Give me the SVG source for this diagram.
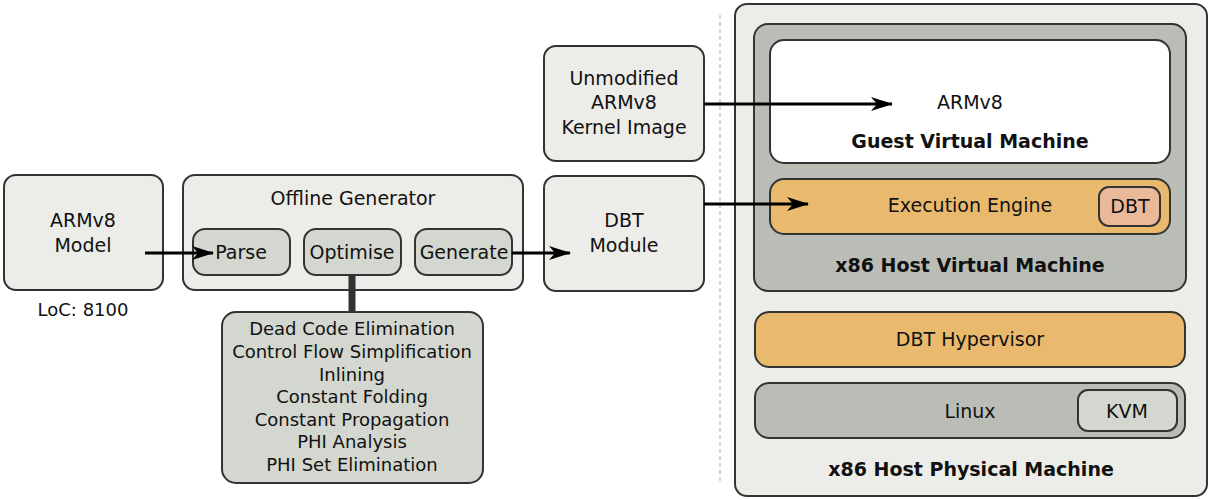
<svg xmlns="http://www.w3.org/2000/svg" width="1210" height="500" viewBox="0 0 1210 500">
<defs>
<marker id="ah" viewBox="0 0 22 14" refX="21" refY="7" markerWidth="22" markerHeight="14" markerUnits="userSpaceOnUse" orient="auto">
<path d="M0,0 L22,7 L0,14 L6,7 Z" fill="#000"/>
</marker>
<style>
text{font-family:"DejaVu Sans","Liberation Sans",sans-serif;font-size:19px;fill:#111;text-anchor:middle;}
.s{font-size:18px;}
.b{font-weight:bold;}
.light{fill:#ecece8;stroke:#333;stroke-width:2;}
.mid{fill:#d3d7cf;stroke:#333;stroke-width:2;}
.dark{fill:#babdb6;stroke:#333;stroke-width:2;}
.org{fill:#e9b96e;stroke:#333;stroke-width:2;}
.wht{fill:#fff;stroke:#333;stroke-width:2;}
.sal{fill:#e9b99a;stroke:#333;stroke-width:2;}
.conn{stroke:#000;stroke-width:3;fill:none;}
</style>
</defs>
<rect width="1210" height="500" fill="#fff"/>
<line x1="720" y1="15" x2="720" y2="482" stroke="#aaa" stroke-width="1" stroke-dasharray="4,3"/>

<g id="armv8-model">
<rect class="light" x="4" y="175" width="159" height="115" rx="12"/>
<text x="83" y="227">ARMv8</text>
<text x="83" y="252">Model</text>
<text class="s" x="83" y="316">LoC: 8100</text>
</g>

<g id="offline-generator">
<rect class="light" x="183" y="175" width="340" height="115" rx="12"/>
<text x="353" y="205">Offline Generator</text>
</g>
<g id="parse">
<rect class="mid" x="193" y="229" width="97" height="46" rx="12"/>
<text x="241" y="259">Parse</text>
</g>
<g id="optimise">
<rect class="mid" x="304" y="229" width="97" height="46" rx="12"/>
<text x="352" y="259">Optimise</text>
</g>
<g id="generate">
<rect class="mid" x="415" y="229" width="97" height="46" rx="12"/>
<text x="464" y="259">Generate</text>
</g>

<g id="optimisations">
<rect class="mid" x="222" y="312" width="261" height="171" rx="14"/>
<text class="s" x="352" y="335">Dead Code Elimination</text>
<text class="s" x="352" y="358">Control Flow Simplification</text>
<text class="s" x="352" y="381">Inlining</text>
<text class="s" x="352" y="403">Constant Folding</text>
<text class="s" x="352" y="426">Constant Propagation</text>
<text class="s" x="352" y="448">PHI Analysis</text>
<text class="s" x="352" y="471">PHI Set Elimination</text>
</g>

<g id="kernel-image">
<rect class="light" x="544" y="46" width="160" height="115" rx="12"/>
<text x="624" y="85">Unmodified</text>
<text x="624" y="109">ARMv8</text>
<text x="624" y="134">Kernel Image</text>
</g>

<g id="dbt-module">
<rect class="light" x="544" y="176" width="160" height="115" rx="12"/>
<text x="624" y="227">DBT</text>
<text x="624" y="252">Module</text>
</g>

<g id="host-physical">
<rect class="light" x="735" y="4" width="472" height="492" rx="12"/>
<text class="b" x="971" y="476">x86 Host Physical Machine</text>
</g>
<g id="host-vm">
<rect class="dark" x="754" y="24" width="432" height="267" rx="14"/>
<text class="b" x="970" y="272">x86 Host Virtual Machine</text>
</g>
<g id="guest-vm">
<rect class="wht" x="770" y="40" width="400" height="123" rx="14"/>
<text x="970" y="109">ARMv8</text>
<text class="b" x="970" y="148">Guest Virtual Machine</text>
</g>
<g id="execution-engine">
<rect class="org" x="770" y="179" width="400" height="55" rx="14"/>
<text x="970" y="212">Execution Engine</text>
</g>
<g id="dbt">
<rect class="sal" x="1099" y="187" width="61" height="39" rx="10"/>
<text x="1130" y="213">DBT</text>
</g>
<g id="dbt-hypervisor">
<rect class="org" x="755" y="312" width="430" height="55" rx="14"/>
<text x="970" y="346">DBT Hypervisor</text>
</g>
<g id="linux">
<rect class="dark" x="755" y="383" width="430" height="55" rx="14"/>
<text x="970" y="418">Linux</text>
</g>
<g id="kvm">
<rect class="mid" x="1078" y="390" width="99" height="41" rx="10"/>
<text x="1127" y="418">KVM</text>
</g>

<g id="connectors">
<line class="conn" x1="145" y1="253" x2="213" y2="253" marker-end="url(#ah)"/>
<line class="conn" x1="512" y1="253" x2="570" y2="253" marker-end="url(#ah)"/>
<line x1="352" y1="275" x2="352" y2="312" stroke="#2e3436" stroke-width="7"/>
<line class="conn" x1="704" y1="104" x2="892" y2="104" marker-end="url(#ah)"/>
<line class="conn" x1="704" y1="204" x2="808" y2="204" marker-end="url(#ah)"/>
</g>
</svg>
